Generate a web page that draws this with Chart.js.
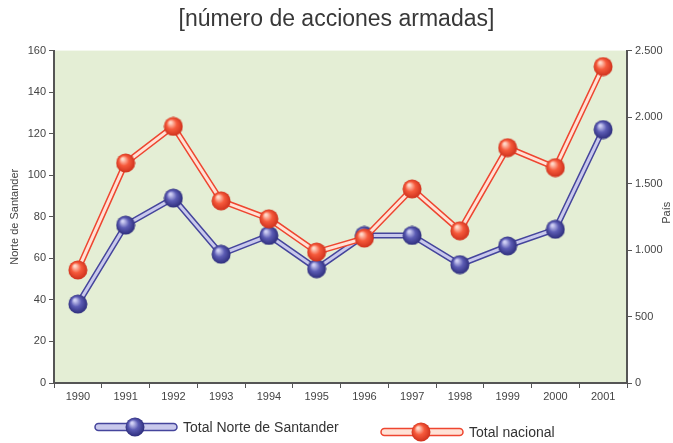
<!DOCTYPE html>
<html>
<head>
<meta charset="utf-8">
<script src="https://cdn.jsdelivr.net/npm/chart.js@4"></script>
<style>
  body { margin: 0; background: #fff; }
</style>
</head>
<body>
<canvas id="grafico" width="673" height="443"></canvas>
<script>
// datos
const years = ['1990', '1991', '1992', '1993', '1994', '1995', '1996', '1997', '1998', '1999', '2000', '2001'];
const norteSantander = [38, 76, 89, 62, 71, 55, 71, 71, 57, 66, 74, 122];
const totalNacional = [850, 1655, 1930, 1370, 1235, 985, 1090, 1460, 1145, 1770, 1620, 2380];
const leftMax = 160, leftStep = 20;
const rightMax = 2500, rightStep = 500;

Chart.defaults.font.family = '"Liberation Sans", Arial, sans-serif';

function makeBall(light, mid, dark) {
    const c = document.createElement('canvas');
    c.width = c.height = 20;
    const g = c.getContext('2d');
    const grad = g.createRadialGradient(7, 6, 1, 10, 10, 10);
    grad.addColorStop(0, light);
    grad.addColorStop(0.45, mid);
    grad.addColorStop(1, dark);
    g.fillStyle = grad;
    g.beginPath();
    g.arc(10, 10, 9.5, 0, Math.PI * 2);
    g.fill();
    return c;
}

const blue = { dark: '#45459c', light: '#c9c9ec', ball: makeBall('#d0d0f4', '#5c5cb4', '#2a2a78') };
const red = { dark: '#ee4630', light: '#ffe2d6', ball: makeBall('#ffd8c8', '#f65a3c', '#cc2e1a') };

const fmt = v => String(v).replace(/\B(?=(\d{3})+(?!\d))/g, '.');

// fondo verde del area de trazado
const fondo = {
    id: 'fondo',
    beforeDraw(chart) {
        const a = chart.chartArea, ctx = chart.ctx;
        ctx.save();
        ctx.fillStyle = '#e4eed5';
        ctx.fillRect(a.left, a.top, a.right - a.left, a.bottom - a.top);
        ctx.restore();
    }
};

// leyenda con barra y bola, y titulo del eje derecho
const leyenda = {
    id: 'leyenda',
    afterDraw(chart) {
        const ctx = chart.ctx;
        const items = [
            { ds: chart.data.datasets[1], st: blue, x: 95, y: 427 },
            { ds: chart.data.datasets[3], st: red, x: 381, y: 432 }
        ];
        ctx.save();
        items.forEach(it => {
            ctx.beginPath();
            ctx.roundRect(it.x, it.y - 3.5, 82, 7, 3.5);
            ctx.fillStyle = it.st.light;
            ctx.fill();
            ctx.lineWidth = 1.5;
            ctx.strokeStyle = it.st.dark;
            ctx.stroke();
            ctx.drawImage(it.st.ball, it.x + 30, it.y - 10);
            ctx.font = '14px "Liberation Sans", Arial, sans-serif';
            ctx.fillStyle = '#333';
            ctx.textBaseline = 'middle';
            ctx.fillText(it.ds.label, it.x + 88, it.y + 1);
        });
        const a = chart.chartArea;
        ctx.translate(667, (a.top + a.bottom) / 2 - 4);
        ctx.rotate(-Math.PI / 2);
        ctx.textAlign = 'center';
        ctx.textBaseline = 'middle';
        ctx.font = '11px "Liberation Sans", Arial, sans-serif';
        ctx.fillStyle = '#444';
        ctx.fillText('País', 0, 0);
        ctx.restore();
    }
};

const axisGrid = { drawOnChartArea: false, tickLength: 5, color: '#555', lineWidth: 1 };
const axisBorder = { color: '#555', width: 2 };
const tickFont = { size: 11 };

new Chart(document.getElementById('grafico').getContext('2d'), {
    type: 'line',
    data: {
        labels: years,
        datasets: [
            { label: 'Total Norte de Santander', data: norteSantander, yAxisID: 'y', borderColor: blue.dark, borderWidth: 6, pointRadius: 0, order: 4 },
            { label: 'Total Norte de Santander', data: norteSantander, yAxisID: 'y', borderColor: blue.light, borderWidth: 3, pointStyle: blue.ball, pointRadius: 10, order: 3 },
            { label: 'Total nacional', data: totalNacional, yAxisID: 'y1', borderColor: red.dark, borderWidth: 6, pointRadius: 0, order: 2 },
            { label: 'Total nacional', data: totalNacional, yAxisID: 'y1', borderColor: red.light, borderWidth: 3, pointStyle: red.ball, pointRadius: 10, order: 1 }
        ]
    },
    options: {
        responsive: false,
        animation: false,
        clip: false,
        layout: { padding: { left: 0, right: 0, top: 0, bottom: 40 } },
        plugins: {
            legend: { display: false },
            tooltip: { enabled: false },
            title: {
                display: true,
                text: '[número de acciones armadas]',
                color: '#383838',
                font: { size: 23, weight: 'normal' },
                padding: { top: 6, bottom: 17 }
            }
        },
        scales: {
            x: {
                offset: true,
                grid: { ...axisGrid, offset: true },
                border: axisBorder,
                ticks: { font: tickFont, color: '#444', padding: 2, maxRotation: 0 },
                afterFit: s => { s.height = 20; }
            },
            y: {
                position: 'left',
                min: 0, max: leftMax,
                grid: axisGrid,
                border: axisBorder,
                ticks: { stepSize: leftStep, font: tickFont, color: '#444', padding: 3 },
                title: { display: true, text: 'Norte de Santander', color: '#444', font: { size: 11 }, padding: { top: 8, bottom: 0 } },
                afterFit: s => { s.width = 54; }
            },
            y1: {
                position: 'right',
                min: 0, max: rightMax,
                grid: axisGrid,
                border: axisBorder,
                ticks: { stepSize: rightStep, font: tickFont, color: '#444', padding: 3, callback: fmt },
                afterFit: s => { s.width = 46; }
            }
        }
    },
    plugins: [fondo, leyenda]
});
</script>
</body>
</html>
